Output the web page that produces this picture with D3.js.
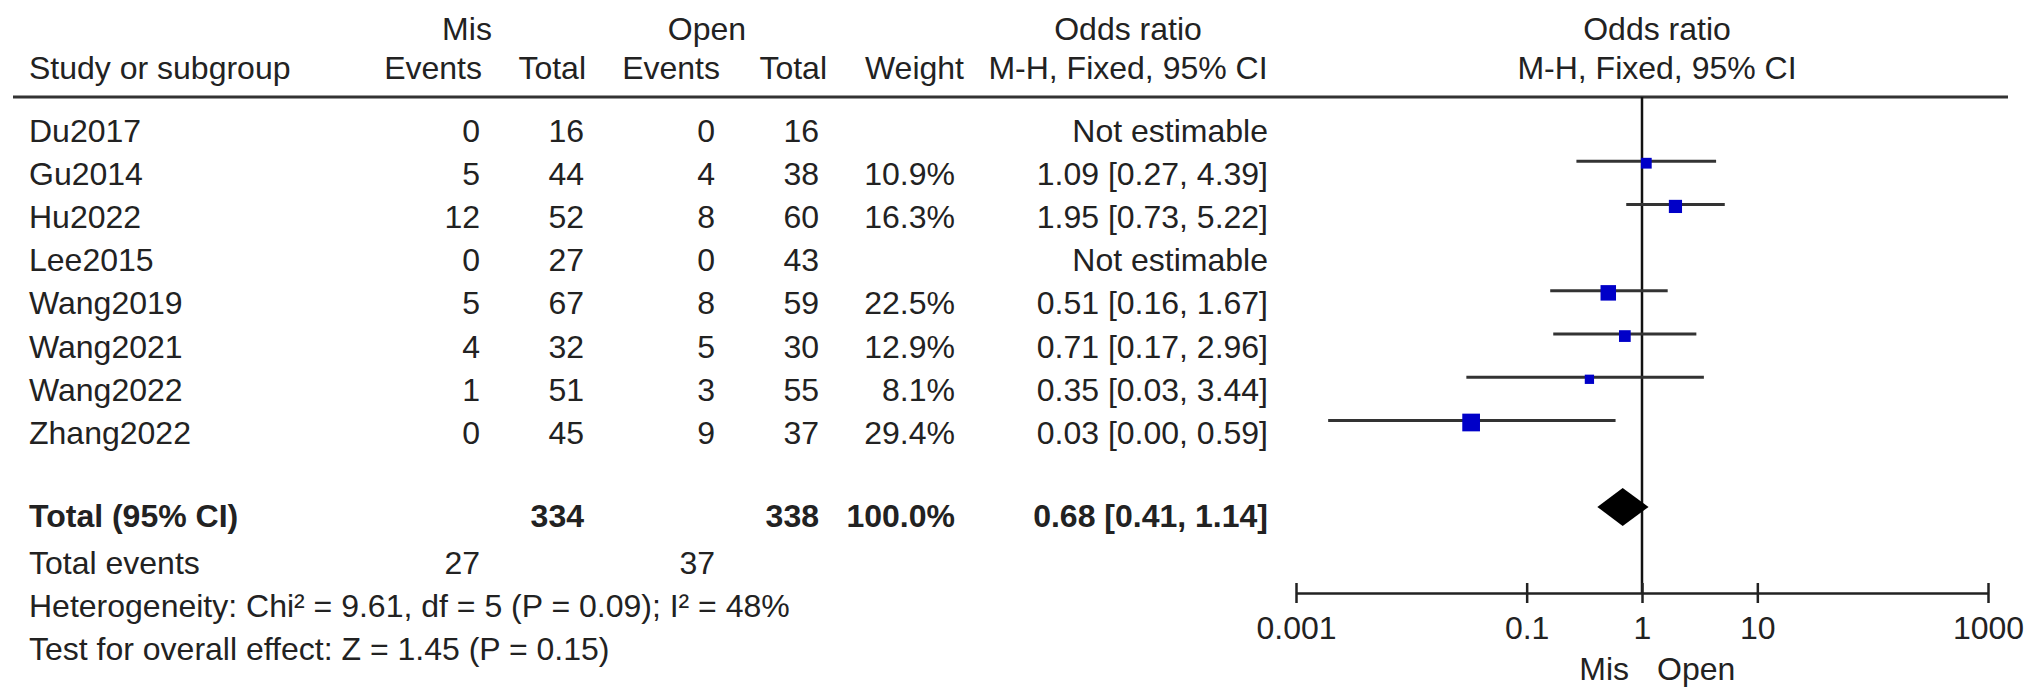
<html>
<head>
<meta charset="utf-8">
<script src="https://d3js.org/d3.v7.min.js"></script>
<style>
body { margin: 0; background: #fff; }
text { font-family: "Liberation Sans", Arial, sans-serif; font-size: 32px; fill: #222; }
</style>
</head>
<body>
<svg width="2032" height="698"></svg>
<script>
/// data
var studies    = ["Du2017", "Gu2014", "Hu2022", "Lee2015", "Wang2019", "Wang2021", "Wang2022", "Zhang2022"];
var misEvents  = [0, 5, 12, 0, 5, 4, 1, 0];
var misTotal   = [16, 44, 52, 27, 67, 32, 51, 45];
var openEvents = [0, 4, 8, 0, 8, 5, 3, 9];
var openTotal  = [16, 38, 60, 43, 59, 30, 55, 37];
var weights    = [null, 10.9, 16.3, null, 22.5, 12.9, 8.1, 29.4];
var oddsRatio  = [null, 1.09, 1.95, null, 0.51, 0.71, 0.35, 0.033];
var ciLow      = [null, 0.27, 0.73, null, 0.16, 0.17, 0.03, 0.0019];
var ciHigh     = [null, 4.39, 5.22, null, 1.67, 2.96, 3.44, 0.59];

var totalMis = 334, totalOpen = 338, totalWeight = 100.0;
var eventsMis = 27, eventsOpen = 37;
var pooled = [0.68, 0.41, 1.14];   /// OR, low, high

var axisTicks  = [0.001, 0.1, 1, 10, 1000];
var tickLabels = ["0.001", "0.1", "1", "10", "1000"];

var hetText  = "Heterogeneity: Chi\u00b2 = 9.61, df = 5 (P = 0.09); I\u00b2 = 48%";
var testText = "Test for overall effect: Z = 1.45 (P = 0.15)";

///START OF DRAWING
var fs = 32;
var svg = d3.select("svg");
svg.append("rect").attr("width", 2032).attr("height", 698).attr("fill", "#fff");

var rowY = d3.scaleLinear().domain([0, 7]).range([130, 432.5]);   /// text centre of each row
var xs   = d3.scaleLog().domain([0.001, 1000]).range([1296, 1988]);
var box  = d3.scaleSqrt().domain([0, 29.4]).range([0, 17.7]);
var f2   = d3.format(".2f"), f1 = d3.format(".1f");

/// column right edges
var cName = 29, cMisEv = 480, cMisTot = 584, cOpenEv = 715, cOpenTot = 819, cWeight = 955, cOR = 1268;

function txt(x, y, s, anchor, bold) {
  return svg.append("text")
    .attr("x", x).attr("y", y + 0.36 * fs)
    .attr("text-anchor", anchor || "start")
    .style("font-weight", bold ? "bold" : null)
    .text(s);
}

/// HEADER
txt(467, 28, "Mis", "middle");
txt(707, 28, "Open", "middle");
txt(1128, 28, "Odds ratio", "middle");
txt(1657, 28, "Odds ratio", "middle");
txt(cName, 67, "Study or subgroup");
txt(482, 67, "Events", "end");
txt(586, 67, "Total", "end");
txt(720, 67, "Events", "end");
txt(827, 67, "Total", "end");
txt(964, 67, "Weight", "end");
txt(1128, 67, "M-H, Fixed, 95% CI", "middle");
txt(1657, 67, "M-H, Fixed, 95% CI", "middle");

svg.append("line").attr("x1", 13).attr("x2", 2008).attr("y1", 97).attr("y2", 97)
  .attr("stroke", "#333").attr("stroke-width", 3);

/// TABLE ROWS
var idx = d3.range(studies.length);
function col(data, x, anchor, fmt) {
  svg.append("g").selectAll("text").data(idx).join("text")
    .attr("x", x)
    .attr("y", function(i) { return rowY(i) + 0.36 * fs; })
    .attr("text-anchor", anchor)
    .text(function(i) { return fmt(data[i], i); });
}
col(studies, cName, "start", function(d) { return d; });
col(misEvents, cMisEv, "end", function(d) { return d; });
col(misTotal, cMisTot, "end", function(d) { return d; });
col(openEvents, cOpenEv, "end", function(d) { return d; });
col(openTotal, cOpenTot, "end", function(d) { return d; });
col(weights, cWeight, "end", function(d) { return d == null ? "" : f1(d) + "%"; });
col(oddsRatio, cOR, "end", function(d, i) {
  return d == null ? "Not estimable" : f2(d) + " [" + f2(ciLow[i]) + ", " + f2(ciHigh[i]) + "]";
});

/// TOTALS
var yTot = rowY(9) - 3;
txt(cName, yTot, "Total (95% CI)", "start", true);
txt(cMisTot, yTot, totalMis, "end", true);
txt(cOpenTot, yTot, totalOpen, "end", true);
txt(cWeight, yTot, f1(totalWeight) + "%", "end", true);
txt(cOR, yTot, f2(pooled[0]) + " [" + f2(pooled[1]) + ", " + f2(pooled[2]) + "]", "end", true);

txt(cName, rowY(10), "Total events");
txt(cMisEv, rowY(10), eventsMis, "end");
txt(cOpenEv, rowY(10), eventsOpen, "end");
txt(cName, rowY(11), hetText);
txt(cName, rowY(12), testText);

/// FOREST PART
var axisY = 593;
svg.append("line").attr("x1", xs(1)).attr("x2", xs(1)).attr("y1", 97).attr("y2", axisY)
  .attr("stroke", "#111").attr("stroke-width", 2.5);

var est = idx.filter(function(i) { return oddsRatio[i] != null; });
svg.append("g").selectAll("line").data(est).join("line")
  .attr("x1", function(i) { return xs(ciLow[i]); })
  .attr("x2", function(i) { return xs(ciHigh[i]); })
  .attr("y1", function(i) { return rowY(i) - 12; })
  .attr("y2", function(i) { return rowY(i) - 12; })
  .attr("stroke", "#333").attr("stroke-width", 3);

svg.append("g").selectAll("rect").data(est).join("rect")
  .attr("x", function(i) { return xs(oddsRatio[i]) - box(weights[i]) / 2; })
  .attr("y", function(i) { return rowY(i) - 10 - box(weights[i]) / 2; })
  .attr("width", function(i) { return box(weights[i]); })
  .attr("height", function(i) { return box(weights[i]); })
  .attr("fill", "#0000c8");

var dy = yTot - 9;
svg.append("path")
  .attr("d", "M" + xs(pooled[1]) + "," + dy + "L" + xs(pooled[0]) + "," + (dy - 19) +
             "L" + xs(pooled[2]) + "," + dy + "L" + xs(pooled[0]) + "," + (dy + 19) + "Z")
  .attr("fill", "#000");

/// AXIS
var ax = svg.append("g").attr("transform", "translate(0," + axisY + ")")
  .call(d3.axisBottom(xs).tickValues(axisTicks)
    .tickFormat(function(d, i) { return tickLabels[i]; })
    .tickSize(10).tickSizeOuter(0));
ax.select(".domain").attr("stroke", "#222").attr("stroke-width", 2.5);
ax.selectAll(".tick line").attr("y1", -10).attr("stroke", "#222").attr("stroke-width", 2.5);
ax.selectAll(".tick text").attr("dy", null).attr("y", 34 + 0.36 * fs);

txt(xs(1) - 13, 668, "Mis", "end");
txt(xs(1) + 15, 668, "Open", "start");
</script>
</body>
</html>
